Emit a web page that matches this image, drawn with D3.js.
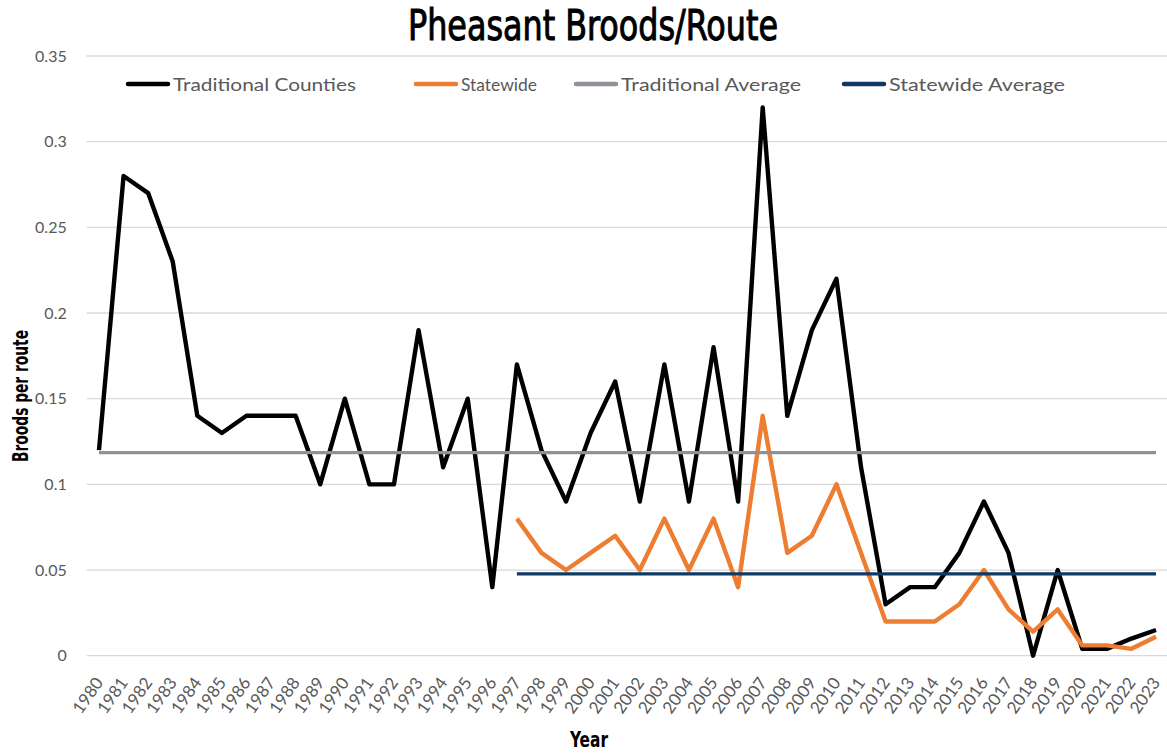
<!DOCTYPE html>
<html>
<head>
<meta charset="utf-8">
<script src="https://cdn.jsdelivr.net/npm/d3@7"></script>
<style>
  body { margin: 0; background: #fff; }
  text { font-family: Lato, "Open Sans", sans-serif; }
  .tick-label { fill: #595959; font-size: 16px; }
  .x-label { font-size: 17px; }
  .legend-label { fill: #595959; font-size: 18px; }
  .cond { font-family: "Liberation Sans Narrow", "DejaVu Sans Condensed", "Roboto", sans-serif; fill: #000; }
</style>
</head>
<body>
<div id="chart"></div>
<script>
// data
const years = d3.range(1980, 2024);
const traditional = [0.12, 0.28, 0.27, 0.23, 0.14, 0.13, 0.14, 0.14, 0.14, 0.10,
  0.15, 0.10, 0.10, 0.19, 0.11, 0.15, 0.04, 0.17, 0.12, 0.09,
  0.13, 0.16, 0.09, 0.17, 0.09, 0.18, 0.09, 0.32, 0.14, 0.19,
  0.22, 0.11, 0.03, 0.04, 0.04, 0.06, 0.09, 0.06, 0.00, 0.05,
  0.004, 0.004, 0.01, 0.015];
// statewide survey starts in 1997
const statewideYears = d3.range(1997, 2024);
const statewide = [0.08, 0.06, 0.05, 0.06, 0.07, 0.05, 0.08, 0.05, 0.08, 0.04,
  0.14, 0.06, 0.07, 0.10, 0.06, 0.02, 0.02, 0.02, 0.03, 0.05,
  0.027, 0.014, 0.027, 0.006, 0.006, 0.004, 0.011];
const traditionalAvg = 0.1185;
const statewideAvg = 0.0477;
const yTicks = [0, 0.05, 0.1, 0.15, 0.2, 0.25, 0.3, 0.35];

const seriesNames = ["Traditional Counties", "Statewide", "Traditional Average", "Statewide Average"];
const seriesColors = ["#000000", "#ED7D31", "#8E9196", "#0E3A64"];
const seriesWidths = [4.4, 4.4, 3.2, 3.2];

const width = 1167, height = 753;
const margin = {top: 56, right: -1.3, bottom: 97.3, left: 86.7};

const svg = d3.select("#chart").append("svg")
  .attr("width", width)
  .attr("height", height);

const x = d3.scalePoint()
  .domain(years)
  .range([margin.left, width - margin.right])
  .padding(0.5);

const y = d3.scaleLinear()
  .domain([0, 0.35])
  .range([height - margin.bottom, margin.top]);

// gridlines
svg.append("g")
  .selectAll("line")
  .data(yTicks)
  .enter()
  .append("line")
  .attr("x1", margin.left)
  .attr("x2", width)
  .attr("y1", d => y(d))
  .attr("y2", d => y(d))
  .attr("stroke", "#D9D9D9")
  .attr("stroke-width", 1.3);

// y axis labels
let yAxis = svg.append("g")
  .attr("transform", `translate(${margin.left}, 0)`)
  .call(d3.axisLeft(y).tickValues(yTicks).tickSize(0).tickPadding(20).tickFormat(d => String(+d.toFixed(2))));
yAxis.select(".domain").remove();
yAxis.selectAll("text").attr("class", "tick-label").attr("fill", null).attr("font-family", null).attr("font-size", null);

// x axis labels, rotated like the original
let xAxis = svg.append("g")
  .attr("transform", `translate(0, ${y(0)})`)
  .call(d3.axisBottom(x).tickSize(0).tickPadding(0));
xAxis.select(".domain").remove();
xAxis.selectAll("text")
  .attr("class", "tick-label x-label")
  .attr("fill", null).attr("font-family", null).attr("font-size", null)
  .attr("text-anchor", "end")
  .attr("dy", null)
  .attr("y", 0)
  .attr("transform", "translate(4.5, 27) rotate(-55)");

// series
const line = d3.line()
  .x(d => x(d.year))
  .y(d => y(d.value));

const seriesData = [
  years.map((yr, i) => ({year: yr, value: traditional[i]})),
  statewideYears.map((yr, i) => ({year: yr, value: statewide[i]})),
  years.map(yr => ({year: yr, value: traditionalAvg})),
  statewideYears.map(yr => ({year: yr, value: statewideAvg}))
];

svg.append("g")
  .selectAll("path")
  .data(seriesData)
  .enter()
  .append("path")
  .attr("d", line)
  .attr("fill", "none")
  .attr("stroke", (d, i) => seriesColors[i])
  .attr("stroke-width", (d, i) => seriesWidths[i])
  .attr("stroke-linejoin", "round");

// legend
const legendX = [127, 415, 575, 843];
const legendTextLen = [183, 76, 180, 176];
const legend = svg.append("g")
  .selectAll("g")
  .data(seriesNames)
  .enter()
  .append("g")
  .attr("transform", (d, i) => `translate(${legendX[i]}, 84)`);
legend.append("line")
  .attr("x1", 1).attr("x2", 41)
  .attr("stroke", (d, i) => seriesColors[i])
  .attr("stroke-width", 4.5)
  .attr("stroke-linecap", "round");
legend.append("text")
  .attr("class", "legend-label")
  .attr("x", 46)
  .attr("y", 6.5)
  .attr("textLength", (d, i) => legendTextLen[i])
  .attr("lengthAdjust", "spacingAndGlyphs")
  .text(d => d);

// title
svg.append("text")
  .attr("class", "cond")
  .attr("x", 408)
  .attr("y", 39.5)
  .attr("font-size", 42)
  .attr("stroke", "#000")
  .attr("stroke-width", 1)
  .attr("textLength", 370)
  .attr("lengthAdjust", "spacingAndGlyphs")
  .text("Pheasant Broods/Route");

// axis titles
svg.append("text")
  .attr("class", "cond")
  .attr("font-size", 22)
  .attr("font-weight", "bold")
  .attr("text-anchor", "middle")
  .attr("transform", "translate(28, 396) rotate(-90)")
  .attr("textLength", 132)
  .attr("lengthAdjust", "spacingAndGlyphs")
  .text("Broods per route");

svg.append("text")
  .attr("class", "cond")
  .attr("font-size", 21)
  .attr("font-weight", "bold")
  .attr("text-anchor", "middle")
  .attr("x", 589)
  .attr("y", 747)
  .attr("textLength", 38)
  .attr("lengthAdjust", "spacingAndGlyphs")
  .text("Year");
</script>
</body>
</html>
